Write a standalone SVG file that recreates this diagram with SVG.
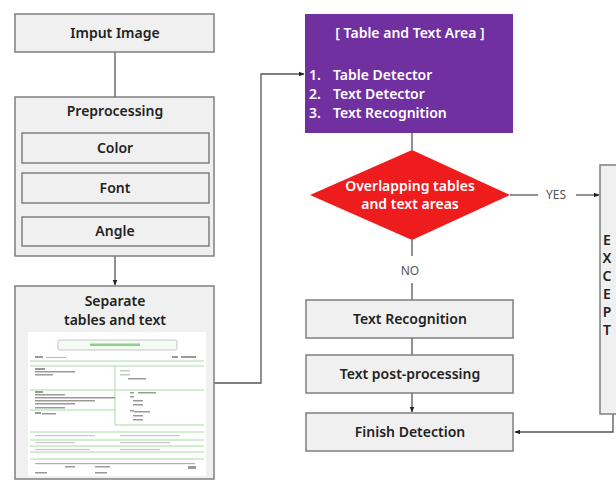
<svg xmlns="http://www.w3.org/2000/svg" width="616" height="481" viewBox="0 0 616 481">
<defs>
<style>
.box{fill:#f0f0f0;stroke:#7f7f7f;stroke-width:1.5}
.sub{fill:#f0f0f0;stroke:#7f7f7f;stroke-width:1.5}
.lbl{font-family:"Noto Sans","Open Sans",sans-serif;font-weight:600;font-size:14px;fill:#222;text-anchor:middle}
.wt{font-family:"Noto Sans","Open Sans",sans-serif;font-weight:600;font-size:14px;fill:#fff}
.conn{fill:none;stroke:#555;stroke-width:1.3}
.g{stroke:#a6dca0;stroke-width:1;fill:none}
.t{fill:#9a9a9a}
.small{font-family:"Noto Sans","Open Sans",sans-serif;font-size:12px;fill:#555;text-anchor:middle}
</style>
<marker id="arr" viewBox="0 0 10 10" refX="9" refY="5" markerWidth="6" markerHeight="6" orient="auto-start-reverse" markerUnits="userSpaceOnUse">
<path d="M0,1 L10,5 L0,9 z" fill="#222"/>
</marker>
</defs>
<rect width="616" height="481" fill="#fff"/>

<g id="connectors">
<line class="conn" x1="115" y1="52" x2="115" y2="97"/>
<line class="conn" x1="115" y1="256" x2="115" y2="285" marker-end="url(#arr)"/>
<polyline class="conn" points="214,383 261,383 261,74 304,74" marker-end="url(#arr)"/>
<line class="conn" x1="412" y1="133" x2="412" y2="150"/>
<line class="conn" x1="510" y1="195" x2="538" y2="195"/>
<line class="conn" x1="576" y1="195" x2="599" y2="195" marker-end="url(#arr)"/>
<line class="conn" x1="412" y1="240" x2="412" y2="256"/>
<line class="conn" x1="412" y1="283" x2="412" y2="300"/>
<line class="conn" x1="412" y1="338" x2="412" y2="355"/>
<line class="conn" x1="412" y1="393" x2="412" y2="412" marker-end="url(#arr)"/>
<polyline class="conn" points="613,414 613,432 515,432" marker-end="url(#arr)"/>
<text class="small" x="556" y="199">YES</text>
<text class="small" x="410" y="275">NO</text>
</g>

<g id="input">
<rect class="box" x="15" y="14" width="199" height="38"/>
<text class="lbl" x="115" y="38">Imput Image</text>
</g>

<g id="preprocessing">
<rect class="box" x="15" y="97" width="199" height="159"/>
<text class="lbl" x="115" y="116">Preprocessing</text>
<rect class="sub" x="22" y="133" width="187" height="30"/>
<text class="lbl" x="115" y="153">Color</text>
<rect class="sub" x="22" y="173" width="187" height="30"/>
<text class="lbl" x="115" y="193">Font</text>
<rect class="sub" x="22" y="217" width="187" height="29"/>
<text class="lbl" x="115" y="236">Angle</text>
</g>

<g id="separate">
<rect class="box" x="15" y="286" width="199" height="193"/>
<text class="lbl" x="115" y="306" font-size="16">Separate</text>
<text class="lbl" x="115" y="325" font-size="16">tables and text</text>
<rect x="28" y="332" width="178" height="144" fill="#fff"/>
<rect x="58" y="340" width="119" height="10" rx="2" fill="#f4fbf3" stroke="#b9b9b9" stroke-width="0.8"/>
<rect x="90" y="343.5" width="50" height="2.5" fill="#8fd08a"/>
<rect x="35" y="356" width="8" height="2" class="t"/>
<rect x="46" y="357" width="20" height="1" fill="#8fd08a"/>
<rect x="172" y="356" width="6" height="2" class="t"/>
<rect x="181" y="356" width="15" height="2" class="t"/>
<line class="g" x1="30" y1="361" x2="204" y2="361"/>
<line class="g" x1="30" y1="366" x2="204" y2="366"/>
<rect x="35" y="368" width="10" height="2" class="t"/>
<rect x="35" y="371" width="40" height="1.5" class="t"/>
<rect x="35" y="374" width="18" height="1.5" class="t"/>
<rect x="120" y="370" width="10" height="1.5" fill="#c8c8c8"/>
<rect x="120" y="374" width="10" height="1.5" fill="#c8c8c8"/>
<rect x="128" y="378" width="18" height="1.5" class="t"/>
<line class="g" x1="115" y1="366" x2="115" y2="425"/>
<line class="g" x1="30" y1="390" x2="204" y2="390"/>
<rect x="35" y="391" width="8" height="2" class="t"/>
<rect x="35" y="394" width="30" height="1.5" class="t"/>
<rect x="35" y="397" width="80" height="1.5" class="t"/>
<rect x="35" y="400" width="60" height="1.5" class="t"/>
<rect x="35" y="403" width="40" height="1.5" class="t"/>
<rect x="35" y="407" width="30" height="1.5" class="t"/>
<rect x="35" y="412" width="6" height="2" class="t"/>
<rect x="42" y="413" width="14" height="1.5" class="t"/>
<line class="g" x1="30" y1="410" x2="115" y2="410"/>
<rect x="130" y="392" width="4" height="1.5" class="t"/>
<rect x="138" y="392" width="18" height="1.5" class="t"/>
<rect x="130" y="396" width="4" height="1.5" class="t"/>
<rect x="133" y="400" width="10" height="1.5" class="t"/>
<rect x="133" y="404" width="10" height="1.5" class="t"/>
<rect x="130" y="410" width="4" height="1.5" class="t"/>
<rect x="134" y="411" width="16" height="1.5" class="t"/>
<rect x="133" y="415" width="10" height="1.5" class="t"/>
<rect x="133" y="419" width="10" height="1.5" class="t"/>
<line class="g" x1="115" y1="425" x2="204" y2="425"/>
<line class="g" x1="30" y1="432" x2="204" y2="432"/>
<line class="g" x1="30" y1="440" x2="204" y2="440"/>
<line class="g" x1="30" y1="446" x2="204" y2="446"/>
<line class="g" x1="30" y1="452" x2="204" y2="452"/>
<line class="g" x1="30" y1="459" x2="204" y2="459"/>
<rect x="35" y="435" width="60" height="1.2" fill="#c8c8c8"/>
<rect x="120" y="435" width="60" height="1.2" fill="#c8c8c8"/>
<rect x="35" y="442" width="40" height="1.2" fill="#c8c8c8"/>
<rect x="120" y="442" width="50" height="1.2" fill="#c8c8c8"/>
<rect x="35" y="449" width="55" height="1.2" fill="#c8c8c8"/>
<rect x="120" y="449" width="40" height="1.2" fill="#c8c8c8"/>
<rect x="35" y="463" width="160" height="1.2" fill="#b0b0b0"/>
<rect x="65" y="466" width="10" height="1.5" class="t"/>
<rect x="95" y="466" width="15" height="1.5" class="t"/>
<rect x="188" y="466" width="8" height="3" class="t"/>
<rect x="35" y="472" width="12" height="1.5" class="t"/>
<rect x="95" y="472" width="12" height="1.5" class="t"/>
</g>

<g id="area">
<rect x="305" y="14" width="208" height="119" fill="#7030a0"/>
<text class="wt" x="410" y="38" text-anchor="middle">[ Table and Text Area ]</text>
<text class="wt" x="309" y="80">1.</text>
<text class="wt" x="333" y="80">Table Detector</text>
<text class="wt" x="309" y="99">2.</text>
<text class="wt" x="333" y="99">Text Detector</text>
<text class="wt" x="309" y="118">3.</text>
<text class="wt" x="333" y="118">Text Recognition</text>
</g>

<g id="decision">
<polygon points="412,150 510,195 412,240 310,195" fill="#ee1c1c"/>
<text class="wt" x="410" y="191" text-anchor="middle" font-size="13.5">Overlapping tables</text>
<text class="wt" x="410" y="209" text-anchor="middle" font-size="13.5">and text areas</text>
</g>

<g id="except">
<rect class="box" x="600" y="165" width="30" height="249"/>
<text class="lbl" x="607" y="245" text-anchor="start">E</text>
<text class="lbl" x="607" y="263" text-anchor="start">X</text>
<text class="lbl" x="607" y="281" text-anchor="start">C</text>
<text class="lbl" x="607" y="299" text-anchor="start">E</text>
<text class="lbl" x="607" y="317" text-anchor="start">P</text>
<text class="lbl" x="607" y="335" text-anchor="start">T</text>
</g>

<g id="textrec">
<rect class="box" x="306" y="300" width="207" height="38"/>
<text class="lbl" x="410" y="324">Text Recognition</text>
</g>

<g id="postproc">
<rect class="box" x="306" y="355" width="207" height="38"/>
<text class="lbl" x="410" y="379">Text post-processing</text>
</g>

<g id="finish">
<rect class="box" x="306" y="413" width="207" height="38"/>
<text class="lbl" x="410" y="437">Finish Detection</text>
</g>
</svg>
